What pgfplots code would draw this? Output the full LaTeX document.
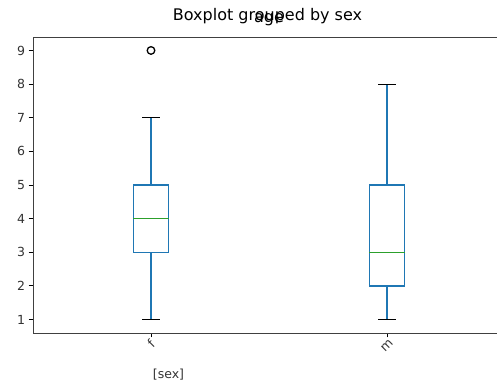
\documentclass[border=0pt]{standalone}
\usepackage{fontspec}
\setmainfont{DejaVu Sans}
\usepackage{pgfplots}
\pgfplotsset{compat=1.18}
\usepgfplotslibrary{statistics}
\definecolor{mplblue}{HTML}{1F77B4}
\definecolor{mplgreen}{HTML}{2CA02C}
\pgfplotsset{
  /pgfplots/boxplot/draw/lower whisker/.code={
    \draw[mplblue, line width=1.1pt]
      (boxplot box cs:\pgfplotsboxplotvalue{lower quartile},0.5) -- (boxplot box cs:\pgfplotsboxplotvalue{lower whisker},0.5);
    \draw[black, solid, line width=1.1pt]
      (boxplot whisker cs:\pgfplotsboxplotvalue{lower whisker},0) -- (boxplot whisker cs:\pgfplotsboxplotvalue{lower whisker},1);
  },
  /pgfplots/boxplot/draw/upper whisker/.code={
    \draw[mplblue, line width=1.1pt]
      (boxplot box cs:\pgfplotsboxplotvalue{upper quartile},0.5) -- (boxplot box cs:\pgfplotsboxplotvalue{upper whisker},0.5);
    \draw[black, solid, line width=1.1pt]
      (boxplot whisker cs:\pgfplotsboxplotvalue{upper whisker},0) -- (boxplot whisker cs:\pgfplotsboxplotvalue{upper whisker},1);
  },
}
\begin{document}
\begin{tikzpicture}[x=1pt,y=1pt]
\begin{axis}[
  at={(33pt,56pt)}, anchor=south west,
  scale only axis, width=472pt, height=296pt,
  xmin=0.5, xmax=2.5, ymin=0.6, ymax=9.4,
  xtick={1,2}, xticklabels={\rotatebox{45}{f},\rotatebox{45}{m}},
  xticklabel style={yshift=2pt},
  ytick={1,2,3,4,5,6,7,8,9},
  tick align=outside, xtick pos=bottom, ytick pos=left,
  major tick length=4.3pt,
  every tick/.style={black, line width=1pt},
  axis line style={line width=1pt, black!75},
  tick label style={font=\fontsize{12.5}{15}\selectfont, text=black!80},
  /pgf/number format/assume math mode=true,
  title={age}, title style={font=\fontsize{16}{18}\selectfont, at={(axis description cs:0.5,1)}, anchor=base, yshift=8.5pt},
  boxplot/draw direction=y,
  boxplot/box extend=0.15, boxplot/whisker extend=0.075,
]
\addplot[mplblue, line width=1.2pt,
  boxplot prepared={draw position=1, lower whisker=1, lower quartile=3, median=4, upper quartile=5, upper whisker=7,
    every median/.style={mplgreen, line width=1.2pt}},
  mark=o, mark size=3.8pt, mark options={draw=black, line width=1.3pt}]
  table[row sep=\\, y index=0] {data\\ 9\\};
\addplot[mplblue, line width=1.2pt,
  boxplot prepared={draw position=2, lower whisker=1, lower quartile=2, median=3, upper quartile=5, upper whisker=8,
    every median/.style={mplgreen, line width=1.2pt}},
  mark=o, mark size=3.8pt, mark options={draw=black, line width=1.3pt}]
  coordinates {};
\end{axis}
\node[anchor=base, font=\fontsize{16}{18}\selectfont] at (267.5, 368.5) {Boxplot grouped by sex};
\node[anchor=base, font=\fontsize{12.5}{15}\selectfont, text=black!80] at (168.5, 11) {[sex]};
\pgfresetboundingbox
\useasboundingbox (0,0) rectangle (497,389);
\end{tikzpicture}
\end{document}
